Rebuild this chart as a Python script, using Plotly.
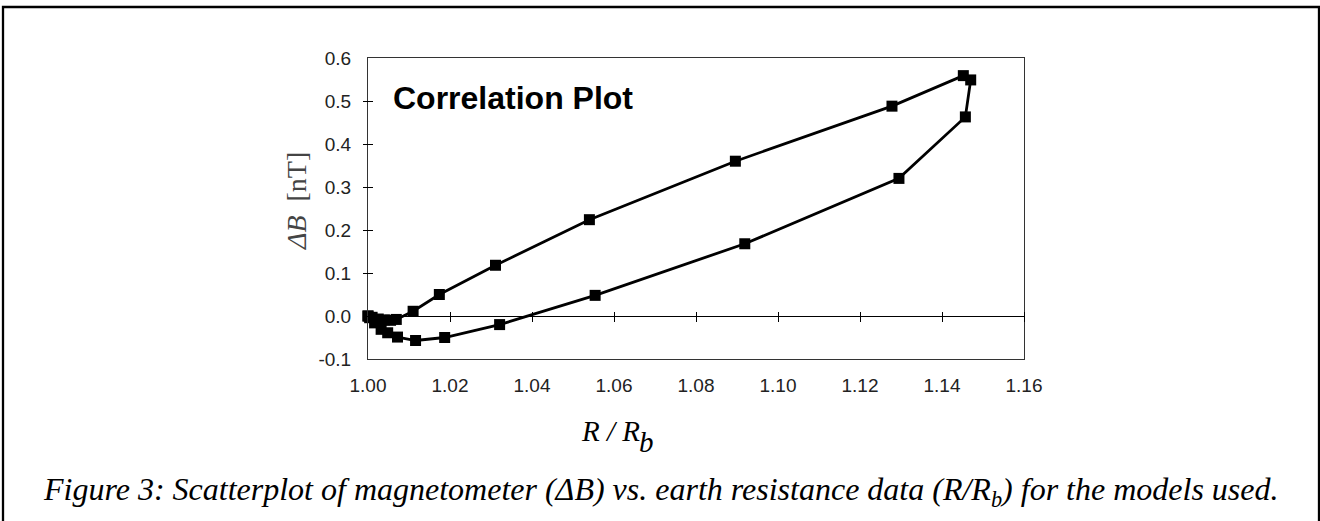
import plotly.graph_objects as go

# ---- data ----
r_ratio = [1.0000, 1.0010, 1.0025, 1.0040, 1.0055, 1.0069, 1.0110, 1.0174, 1.0311,
           1.0540, 1.0896, 1.1278, 1.1452, 1.1470, 1.1457, 1.1295, 1.0919, 1.0554,
           1.0321, 1.0187, 1.0116, 1.0072, 1.0048, 1.0032, 1.0016, 1.0004, 1.0000]
delta_b = [0.000, -0.003, -0.007, -0.009, -0.010, -0.008, 0.011, 0.050, 0.118,
           0.224, 0.360, 0.488, 0.559, 0.549, 0.463, 0.320, 0.168, 0.048,
           -0.020, -0.050, -0.057, -0.049, -0.039, -0.031, -0.016, -0.004, 0.000]

x_ticks = [1.00, 1.02, 1.04, 1.06, 1.08, 1.10, 1.12, 1.14, 1.16]
x_tick_text = ["1.00", "1.02", "1.04", "1.06", "1.08", "1.10", "1.12", "1.14", "1.16"]
y_ticks = [-0.1, 0.0, 0.1, 0.2, 0.3, 0.4, 0.5, 0.6]
y_tick_text = ["-0.1", "0.0", "0.1", "0.2", "0.3", "0.4", "0.5", "0.6"]
x_range = [1.0, 1.16]
y_range = [-0.1, 0.6]

W, H = 1320, 521
ML, MR, MT, MB = 368, 296, 58, 162
PW, PH = W - ML - MR, H - MT - MB


def px_x(p):
    return (p - ML) / PW


def px_y(p):
    return (H - MB - p) / PH


zero_frac = (0 - y_range[0]) / (y_range[1] - y_range[0])

fig = go.Figure()
fig.add_trace(go.Scatter(
    x=r_ratio, y=delta_b, mode="lines+markers",
    line=dict(color="black", width=2.8),
    marker=dict(symbol="square", size=11, color="black"),
    cliponaxis=False, showlegend=False, hoverinfo="skip"))
# helper traces so tick-only axes are drawn
fig.add_trace(go.Scatter(x=[None], y=[None], xaxis="x2", yaxis="y", showlegend=False, hoverinfo="skip"))
fig.add_trace(go.Scatter(x=[None], y=[None], xaxis="x", yaxis="y2", showlegend=False, hoverinfo="skip"))

tick_font = dict(family="Liberation Sans, Arial, sans-serif", size=19, color="#222")

fig.update_layout(
    width=W, height=H,
    margin=dict(l=ML, r=MR, t=MT, b=MB, pad=0),
    paper_bgcolor="white", plot_bgcolor="white",
    xaxis=dict(range=x_range, tickvals=x_ticks, ticktext=x_tick_text,
               showgrid=False, zeroline=False, showline=True, mirror=True,
               linecolor="#333", linewidth=1,
               ticks="outside", ticklen=9, tickcolor="rgba(0,0,0,0)",
               tickfont=tick_font),
    yaxis=dict(range=y_range, tickvals=y_ticks, ticktext=y_tick_text,
               showgrid=False, zeroline=True, zerolinecolor="black", zerolinewidth=1,
               showline=True, mirror=True, linecolor="#333", linewidth=1,
               ticks="outside", ticklen=12, tickcolor="rgba(0,0,0,0)",
               tickfont=tick_font),
    xaxis2=dict(range=x_range, overlaying="x", anchor="free",
                position=zero_frac + 5 / PH, side="bottom",
                tickvals=x_ticks, ticks="outside", ticklen=10, tickwidth=1,
                tickcolor="black", showticklabels=False, showline=False,
                showgrid=False, zeroline=False),
    yaxis2=dict(range=y_range, overlaying="y", anchor="free",
                position=5 / PW, side="right",
                tickvals=y_ticks, ticks="inside", ticklen=10, tickwidth=1,
                tickcolor="black", showticklabels=False, showline=False,
                showgrid=False, zeroline=False),
    shapes=[dict(type="rect", xref="paper", yref="paper",
                 x0=px_x(3), x1=px_x(1319), y0=px_y(560), y1=px_y(7),
                 line=dict(color="black", width=2.3), fillcolor="rgba(0,0,0,0)",
                 layer="above")],
    annotations=[
        dict(text="<b>Correlation Plot</b>", xref="paper", yref="paper",
             x=px_x(391), y=px_y(98), xanchor="left", yanchor="middle",
             showarrow=False,
             font=dict(family="Liberation Sans, Arial, sans-serif", size=32, color="black")),
        dict(text="<i>ΔB</i>  [nT]", xref="paper", yref="paper",
             x=px_x(296), y=px_y(201), xanchor="center", yanchor="middle",
             textangle=-90, showarrow=False,
             font=dict(family="Liberation Serif, Times New Roman, serif", size=28, color="#444")),
        dict(text="<i>R / R</i>", xref="paper", yref="paper",
             x=px_x(579), y=px_y(431), xanchor="left", yanchor="middle",
             showarrow=False,
             font=dict(family="Liberation Serif, Times New Roman, serif", size=29, color="black")),
        dict(text="<i>b</i>", xref="paper", yref="paper",
             x=px_x(637), y=px_y(442), xanchor="left", yanchor="middle",
             showarrow=False,
             font=dict(family="Liberation Serif, Times New Roman, serif", size=29, color="black")),
        dict(text="<i>Figure 3: Scatterplot of magnetometer (ΔB) vs. earth resistance data (R/R<sub>b</sub>) for the models used.</i>",
             xref="paper", yref="paper",
             x=px_x(41), y=px_y(492), xanchor="left", yanchor="middle",
             showarrow=False,
             font=dict(family="Liberation Serif, Times New Roman, serif", size=32, color="black")),
    ],
)

fig.write_html("out.html")
